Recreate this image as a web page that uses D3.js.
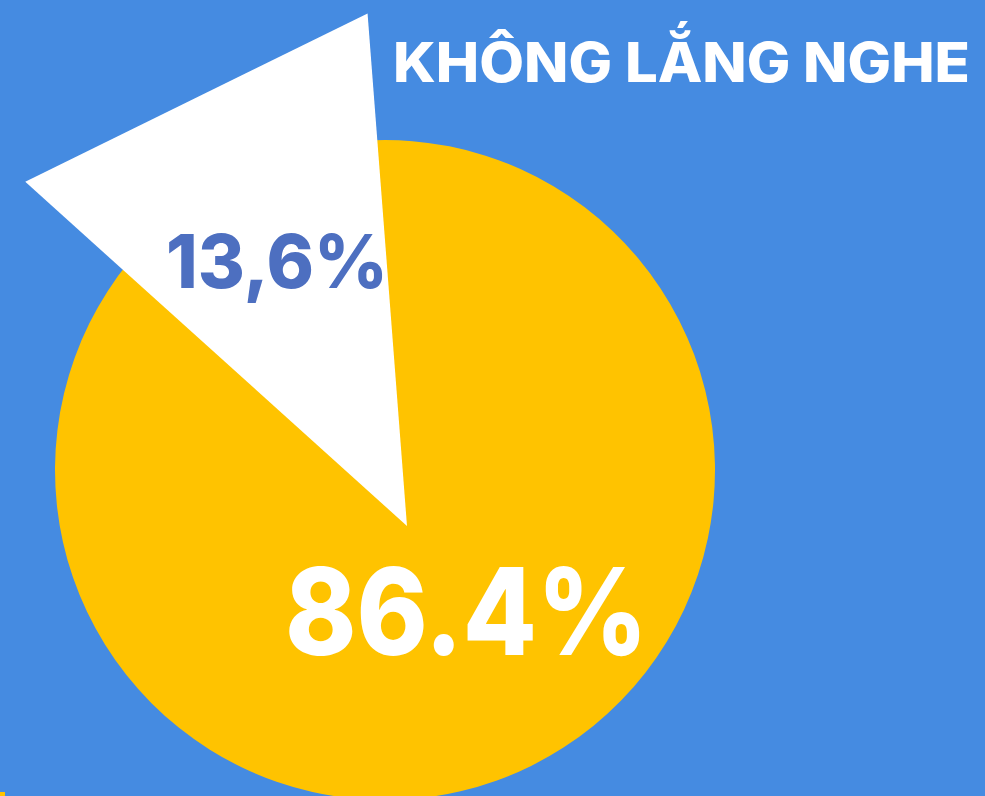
<!DOCTYPE html>
<html>
<head>
<meta charset="utf-8">
<script src="https://cdn.jsdelivr.net/npm/d3@7"></script>
<style>
  html, body { margin: 0; padding: 0; background: #458BE1; overflow: hidden; }
  svg { display: block; }
</style>
</head>
<body>
<script>
// ---- data ----
const categories = ["Lắng nghe", "Không lắng nghe"];
const values = [86.4, 13.6];
const labels = ["86.4%", "13,6%"];
const title = "KHÔNG LẮNG NGHE";

// ---- layout ----
const W = 985, H = 796;
const cx = 385, cy = 470, R = 330;
const deg = Math.PI / 180;

const svg = d3.select("body").append("svg").attr("width", W).attr("height", H);
svg.append("rect").attr("width", W).attr("height", H).attr("fill", "#458BE1");

const pie = d3.pie().sort(null)
  .startAngle(-1.7 * deg)
  .endAngle(358.3 * deg);
const arcs = pie(values);

const g = svg.append("g").attr("transform", `translate(${cx},${cy})`);
const arc = d3.arc().innerRadius(0).outerRadius(R);

// main (yellow) slice
g.append("path").attr("d", arc(arcs[0])).attr("fill", "#FFC300");

// exploded slice drawn as a triangle
const white = arcs[1];
const inset = 2.7 * deg, R2 = 514;
const apex = [22, 56];
const a1 = white.startAngle + inset, a2 = white.endAngle - inset;
const pt = a => [apex[0] + R2 * Math.sin(a), apex[1] - R2 * Math.cos(a)];
g.append("path")
  .attr("d", d3.line()([apex, pt(a1), pt(a2)]) + "Z")
  .attr("fill", "#FFFFFF");

// labels
svg.append("text")
  .attr("x", 285).attr("y", 655)
  .attr("textLength", 363).attr("lengthAdjust", "spacingAndGlyphs")
  .attr("font-family", "Inter, 'Open Sans', sans-serif")
  .attr("font-weight", 800)
  .attr("font-size", 121)
  .attr("fill", "#FFFFFF")
  .text(labels[0]);

svg.append("text")
  .attr("x", 166).attr("y", 288)
  .attr("textLength", 222).attr("lengthAdjust", "spacingAndGlyphs")
  .attr("font-family", "Inter, 'Open Sans', sans-serif")
  .attr("font-weight", 800)
  .attr("font-size", 74)
  .attr("fill", "#4D6FC0")
  .text(labels[1]);

svg.append("text")
  .attr("x", 393).attr("y", 82)
  .attr("textLength", 577).attr("lengthAdjust", "spacingAndGlyphs")
  .attr("font-family", "Inter, 'Open Sans', sans-serif")
  .attr("font-weight", 800)
  .attr("font-size", 55)
  .attr("fill", "#FFFFFF")
  .text(title);

// small yellow fragment at bottom-left corner
svg.append("rect").attr("x", 0).attr("y", 792).attr("width", 5).attr("height", 4).attr("fill", "#FFC300");
</script>
</body>
</html>
